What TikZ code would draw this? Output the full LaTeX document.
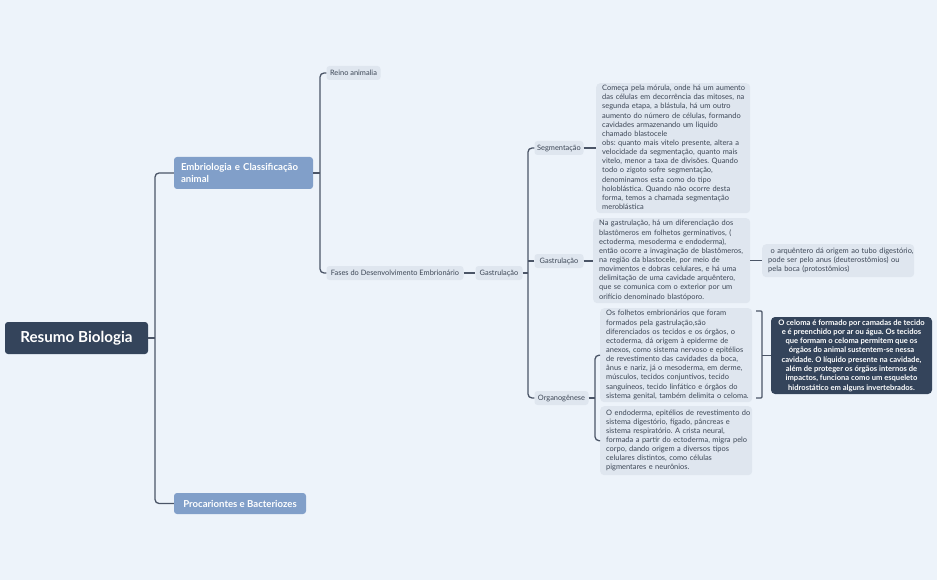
\documentclass[tikz,border=0pt]{standalone}
\usepackage{fontspec}
\setmainfont{Lato}
\frenchspacing
\definecolor{bg}{HTML}{EDF3FA}
\definecolor{darkbox}{HTML}{34445B}
\definecolor{midbox}{HTML}{819FC9}
\definecolor{pale}{HTML}{DFE6EF}
\definecolor{linec}{HTML}{4B5567}
\definecolor{txt}{HTML}{3D4756}
\newcommand{\mlines}[1]{\begin{tabular}{@{}l@{}}#1\end{tabular}}
\tikzset{
  conn/.style={draw=linec, line width=1.3pt, rounded corners=4pt},
  lbl/.style={fill=pale, rounded corners=3pt, text=txt, inner sep=0pt,
    font=\fontsize{7.4}{9}\selectfont, minimum height=14pt},
  tbox/.style={fill=pale, rounded corners=4pt, text=txt, align=left, anchor=north west,
    inner xsep=6pt, inner ysep=0pt, font=\fontsize{7.45}{9.15}\selectfont},
  topic/.style={fill=midbox, rounded corners=3pt, text=white, inner sep=0pt,
    font=\fontsize{9.6}{12}\selectfont\bfseries}
}
\begin{document}
\begin{tikzpicture}[x=1pt,y=-1pt]
\fill[bg] (0,0) rectangle (937,580);
\useasboundingbox (0,0) rectangle (937,580);

% root
\node[fill=darkbox, rounded corners=3pt, text=white, font=\fontsize{15.2}{17}\selectfont\bfseries,
  minimum width=143pt, minimum height=32pt, inner sep=0pt] (root) at (76.5,338) {Resumo Biologia};

% main topics
\node[topic, minimum width=139pt, minimum height=32pt, align=left, text width=125pt, inner xsep=7pt] (embr) at (243.5,173)
  {Embriologia e Classificação\\animal};
\node[topic, minimum width=132pt, minimum height=21pt] (proc) at (240,503.5) {Procariontes e Bacteriozes};

% subtopics
\node[lbl, minimum width=54pt] (reino) at (353.5,73) {Reino animalia};
\node[lbl, minimum width=137pt] (fases) at (395,273) {Fases do Desenvolvimento Embrionário};
\node[lbl, minimum width=47pt] (gastr0) at (499,273) {Gastrulação};
\node[lbl, minimum width=49pt] (segm) at (559,148) {Segmentação};
\node[lbl, minimum width=49pt] (gastr) at (559,261) {Gastrulação};
\node[lbl, minimum width=54pt] (organ) at (561.5,398) {Organogênese};

% text boxes
\node[tbox, text width=142pt, minimum height=130pt] (segtxt) at (596,83) {\mlines{%
Começa pela mórula, onde há um aumento\\
das células em decorrência das mitoses, na\\
segunda etapa, a blástula, há um outro\\
aumento do número de células, formando\\
cavidades armazenando um liquido\\
chamado blastocele\\
obs: quanto mais vitelo presente, altera a\\
velocidade da segmentação, quanto mais\\
vitelo, menor a taxa de divisões. Quando\\
todo o zigoto sofre segmentação,\\
denominamos esta como do tipo\\
holoblástica. Quando não ocorre desta\\
forma, temos a chamada segmentação\\
meroblástica}};

\node[tbox, text width=145pt, minimum height=85pt] (gastxt) at (593,218) {\mlines{%
Na gastrulação, há um diferenciação dos\\
blastômeros em folhetos germinativos, (\\
ectoderma, mesoderma e endoderma),\\
então ocorre a invaginação de blastômeros,\\
na região da blastocele, por meio de\\
movimentos e dobras celulares, e há uma\\
delimitação de uma cavidade arquêntero,\\
que se comunica com o exterior por um\\
orifício denominado blastóporo.}};

\node[tbox, text width=140pt, minimum height=33pt] (arq) at (762,244) {\mlines{%
\ o arquêntero dá origem ao tubo digestório,\\
pode ser pelo anus (deuterostômios) ou\\
pela boca (protostômios)}};

\node[tbox, text width=140pt, minimum height=94pt] (org1) at (600,308) {\mlines{%
Os folhetos embrionários que foram\\
formados pela gastrulação,são\\
diferenciados os tecidos e os órgãos, o\\
ectoderma, dá origem à epiderme de\\
anexos, como sistema nervoso e epitélios\\
de revestimento das cavidades da boca,\\
ânus e nariz, já o mesoderma, em derme,\\
músculos, tecidos conjuntivos, tecido\\
sanguíneos, tecido linfático e órgãos do\\
sistema genital, também delimita o celoma.}};

\node[tbox, text width=140pt, minimum height=69pt] (org2) at (600,406) {\mlines{%
O endoderma, epitélios de revestimento do\\
sistema digestório, fígado, pâncreas e\\
sistema respiratório. A crista neural,\\
formada a partir do ectoderma, migra pelo\\
corpo, dando origem a diversos tipos\\
celulares distintos, como células\\
pigmentares e neurônios.}};

\node[fill=darkbox, rounded corners=4pt, text=white, align=center, inner sep=0pt,
  minimum width=161pt, minimum height=77pt, font=\fontsize{7.6}{9.3}\selectfont\bfseries] (celoma) at (851.5,355.5) {%
O celoma é formado por camadas de tecido\\
e é preenchido por ar ou água. Os tecidos\\
que formam o celoma permitem que os\\
órgãos do animal sustentem-se nessa\\
cavidade. O líquido presente na cavidade,\\
além de proteger os órgãos internos de\\
impactos, funciona como um esqueleto\\
hidrostático em alguns invertebrados.};

% connectors
\coordinate (s1) at (155,338);
\draw[conn] (root.east) -- (s1);
\draw[conn] (embr.west) -| (s1) |- (proc.west);

\coordinate (s2) at (320,173);
\draw[conn] (embr.east) -- (s2);
\draw[conn] (reino.west) -| (s2) |- (fases.west);
\draw[conn] (fases.east) -- (gastr0.west);

\coordinate (s3) at (528,273);
\draw[conn] (gastr0.east) -- (s3);
\draw[conn] (segm.west) -| (s3) |- (organ.west);
\draw[conn] (gastr.west) -- (gastr.west -| s3);

\draw[conn] (segm.east) -- (segm.east -| segtxt.west);
\draw[conn] (gastr.east) -- (gastr.east -| gastxt.west);
\draw[conn] (gastxt.east |- arq.west) -- (arq.west);

\coordinate (b1) at (595,398);
\draw[conn] (organ.east) -- (b1);
\draw[conn] (org1.west) -| (b1) |- (org2.west);

\coordinate (rt) at (756,311);
\coordinate (rt2) at (762,311);
\coordinate (rb2) at (762,398);
\coordinate (rb) at (756,398);
\coordinate (rm) at (762,355.5);
\draw[conn, line width=1.1pt, rounded corners=1pt] (rt) -- (rt2) -- (rb2) -- (rb);
\draw[conn, line width=1.1pt] (rm) -- (celoma.west);
\end{tikzpicture}
\end{document}
